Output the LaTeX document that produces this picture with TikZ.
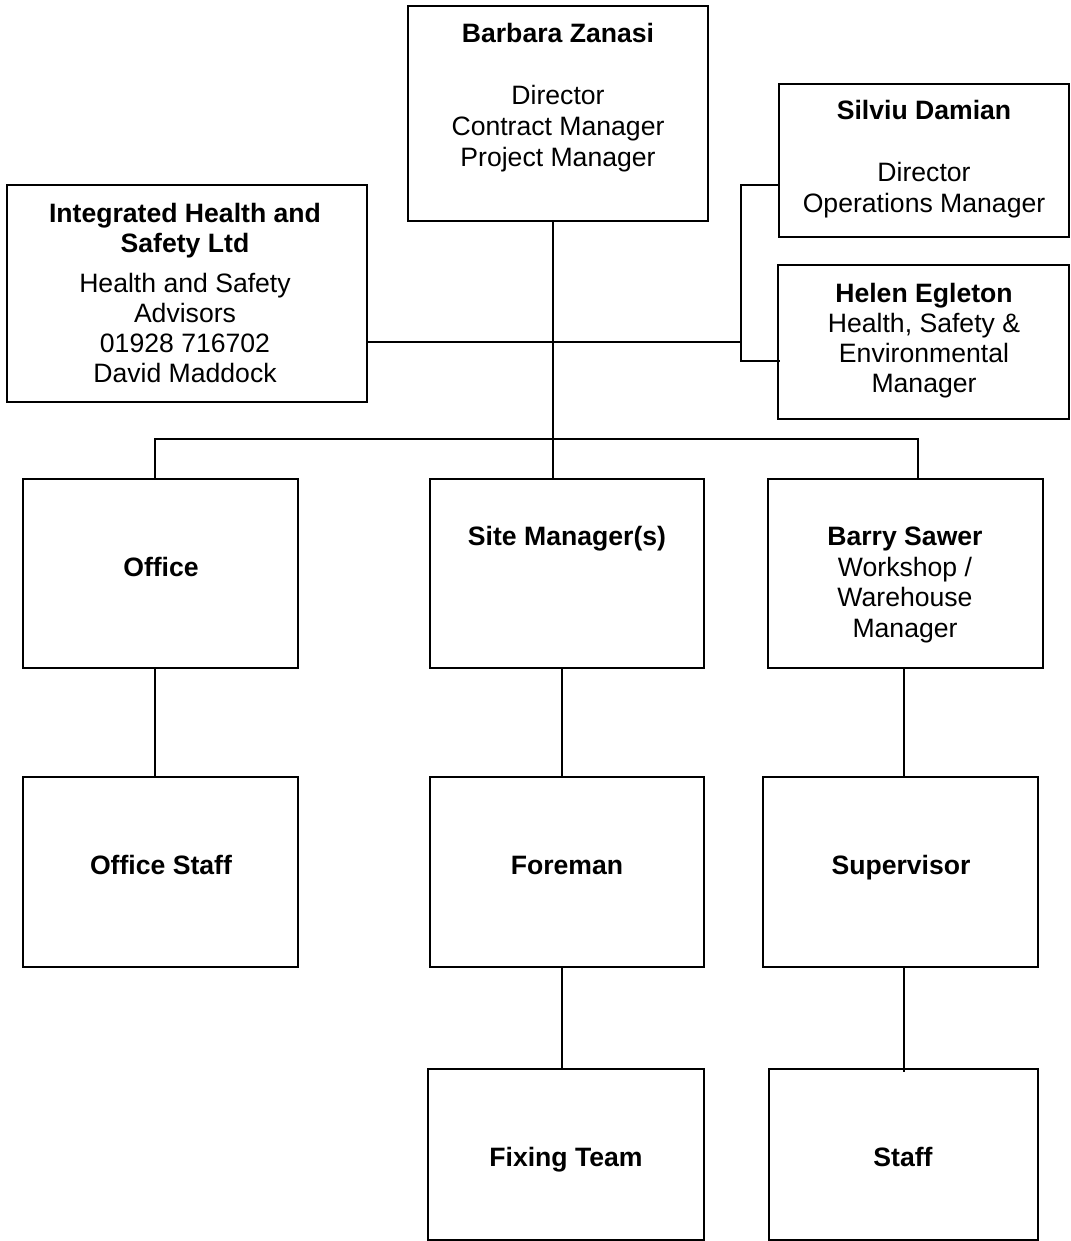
\documentclass[tikz,border=0pt]{standalone}
\usepackage{fontspec}
\setmainfont{Liberation Sans}
\usetikzlibrary{calc}
\begin{document}
\begin{tikzpicture}[x=1pt,y=-1pt,
  box/.style={draw, line width=1.8pt, inner sep=0pt, minimum width=#1},
  lbl/.style={anchor=north, inner sep=0pt, align=center, font=\fontsize{26.6}{31}\selectfont},
  conn/.style={line width=1.8pt}]
\useasboundingbox (0,0) rectangle (1070,1241);
% boxes
\node[box=300, minimum height=215] (bz) at (558,113.5) {};
\node[box=290, minimum height=153] (sd) at (924,160.5) {};
\node[box=291, minimum height=154] (he) at (923.5,342) {};
\node[box=360, minimum height=217] (ih) at (187,293.5) {};
\node[box=275, minimum height=189] (of) at (160.5,573.5) {};
\node[box=274, minimum height=189] (sm) at (567,573.5) {};
\node[box=275, minimum height=189] (bs) at (905.5,573.5) {};
\node[box=275, minimum height=190] (os) at (160.5,872) {};
\node[box=274, minimum height=190] (fm) at (567,872) {};
\node[box=275, minimum height=190] (sv) at (900.5,872) {};
\node[box=276, minimum height=171] (ft) at (566,1154.5) {};
\node[box=269, minimum height=171] (st) at (903.5,1154.5) {};
% texts
\node[lbl] (bzt) at (558,23.5) {\textbf{Barbara Zanasi}\\[31pt]Director\\Contract Manager\\Project Manager};
\node[lbl] (sdt) at (924,100.5) {\textbf{Silviu Damian}\\[31pt]Director\\Operations Manager};
\node[lbl, font=\fontsize{26.6}{30}\selectfont] (het) at (924,283) {\textbf{Helen Egleton}\\Health, Safety \&\\Environmental\\Manager};
\node[lbl, font=\fontsize{26.6}{30}\selectfont] (iht) at (185,203) {\textbf{Integrated Health and}\\\textbf{Safety Ltd}\\[10pt]Health and Safety\\Advisors\\01928 716702\\David Maddock};
\node[lbl] (oft) at (161,557.5) {\textbf{Office}};
\node[lbl] (smt) at (567,526.5) {\textbf{Site Manager(s)}};
\node[lbl, font=\fontsize{26.6}{30.5}\selectfont] (bst) at (905,527) {\textbf{Barry Sawer}\\Workshop /\\Warehouse\\Manager};
\node[lbl] (ost) at (161,855.5) {\textbf{Office Staff}};
\node[lbl] (fmt) at (567,855.5) {\textbf{Foreman}};
\node[lbl] (svt) at (901,855.5) {\textbf{Supervisor}};
\node[lbl] (ftt) at (566,1147.5) {\textbf{Fixing Team}};
\node[lbl] (stt) at (903,1147.5) {\textbf{Staff}};
% junction coordinates
\coordinate (j1) at (553,342);
\coordinate (j2) at (553,439);
\coordinate (bt) at (741,185);
\coordinate (bb) at (741,361);
\coordinate (ofx) at (155,439);
\coordinate (bsx) at (918,439);
\coordinate (smx) at (562,700);
\coordinate (svx) at (904,700);
% connectors
\draw[conn] (bz.south -| j1) -- (j1) -- (j2) -- (sm.north -| j2);
\draw[conn] (ih.east |- j1) -- (j1) -- (j1 -| bt);
\draw[conn] (sd.west |- bt) -- (bt) -- (bb) -- ($(he.west |- bb)+(3,0)$);
\draw[conn] (of.north -| ofx) -- (ofx) -- (bsx) -- (bs.north -| bsx);
\draw[conn] (of.south -| ofx) -- (os.north -| ofx);
\draw[conn] (sm.south -| smx) -- (fm.north -| smx);
\draw[conn] (fm.south -| smx) -- (ft.north -| smx);
\draw[conn] (bs.south -| svx) -- (sv.north -| svx);
\draw[conn] (sv.south -| svx) -- ($(st.north -| svx)+(0,4)$);
\end{tikzpicture}
\end{document}
